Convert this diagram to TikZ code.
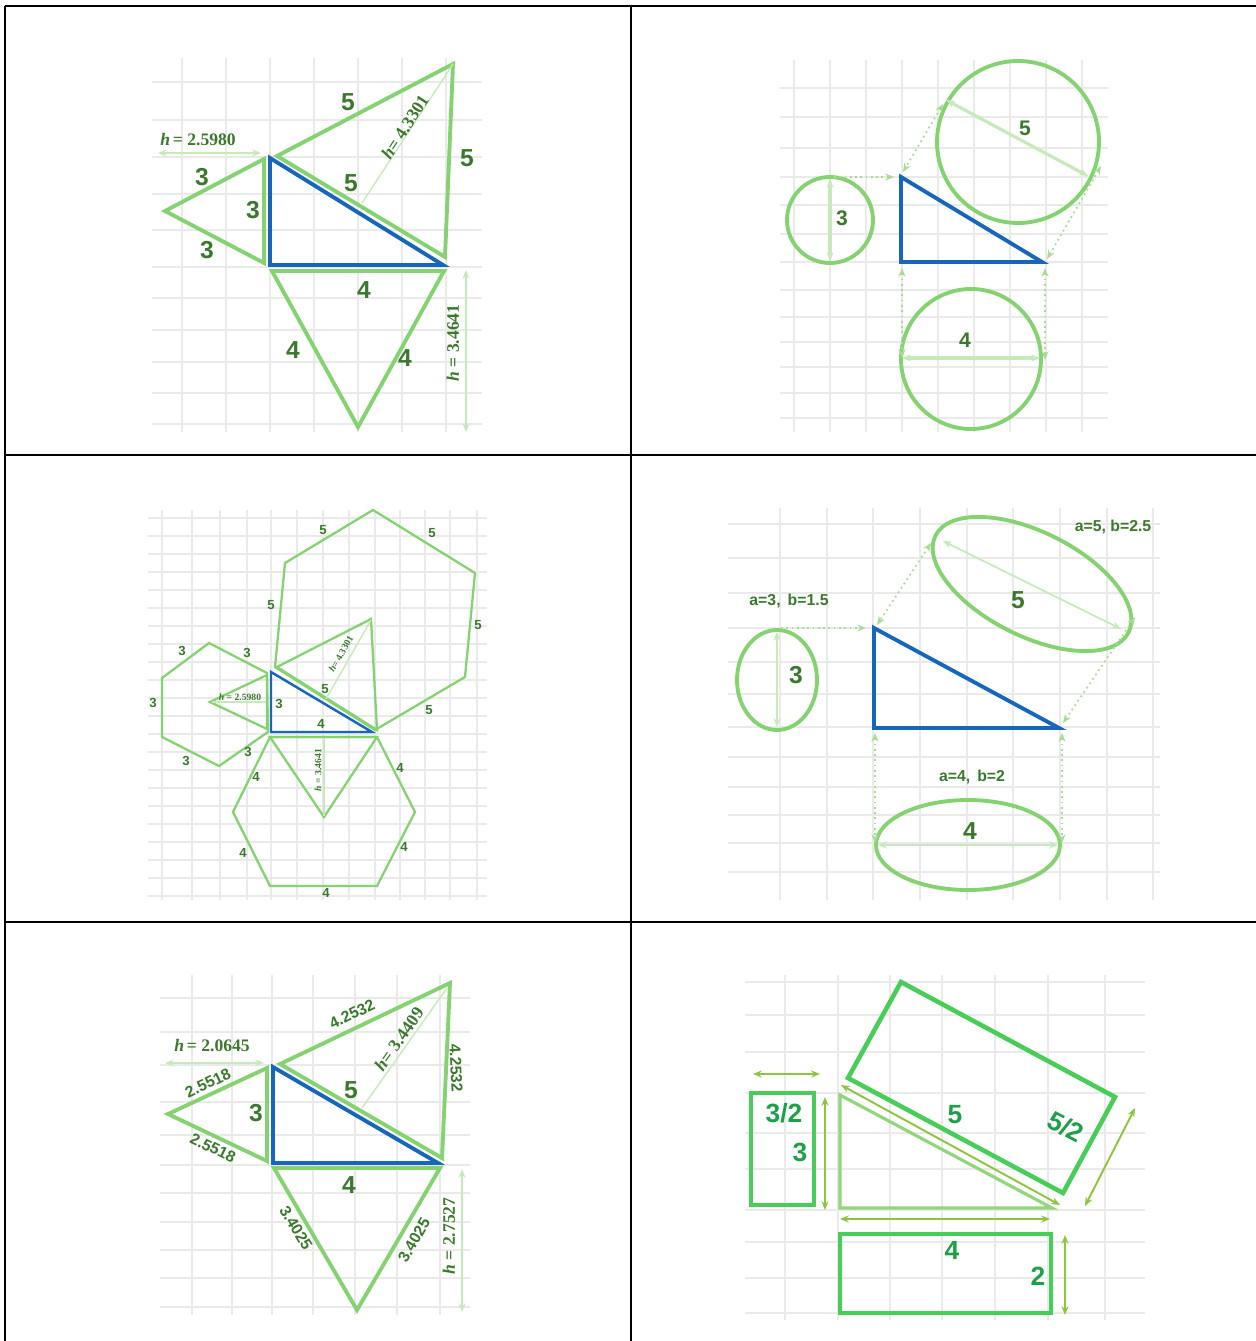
\documentclass[tikz,border=0pt]{standalone}
\usepackage{fontspec}
\setmainfont{Liberation Serif}
\setsansfont{Liberation Sans}
\usetikzlibrary{arrows.meta}

\definecolor{shapegreen}{RGB}{132,210,112}
\definecolor{labelgreen}{RGB}{58,120,44}
\definecolor{palegreen}{RGB}{198,234,186}
\definecolor{dotgreen}{RGB}{168,220,150}
\definecolor{triblue}{RGB}{22,102,190}
\definecolor{gridgray}{RGB}{234,234,234}
\definecolor{rectgreen}{RGB}{72,206,88}
\definecolor{rectlabel}{RGB}{28,160,72}
\definecolor{arrowgreen}{RGB}{140,198,63}
\definecolor{trigreen}{RGB}{146,214,124}

\tikzset{
	gridline/.style={gridgray, line width=0.6pt},
	tableline/.style={black, line width=1.2pt},
	greenshape/.style={shapegreen, line width=2.2pt},
	thinshape/.style={shapegreen, line width=1.3pt},
	blueshape/.style={triblue, line width=2.2pt},
	thinblue/.style={triblue, line width=1.4pt},
	rectshape/.style={rectgreen, line width=2.6pt},
	helper/.style={palegreen, line width=0.8pt},
	dotarrow/.style={dotgreen, line width=1pt, dotted},
	sizearrow/.style={arrowgreen, line width=1.1pt},
	biglabel/.style={labelgreen, font=\sffamily\bfseries\fontsize{14}{14}\selectfont},
	midlabel/.style={labelgreen, font=\sffamily\bfseries\fontsize{12}{12}\selectfont},
	smalllabel/.style={labelgreen, font=\sffamily\bfseries\fontsize{9}{9}\selectfont},
	tinylabel/.style={labelgreen, font=\sffamily\bfseries\fontsize{7.5}{7.5}\selectfont},
	hlabel/.style={labelgreen, font=\bfseries\fontsize{10}{10}\selectfont},
	htiny/.style={labelgreen, font=\bfseries\fontsize{5.5}{5.5}\selectfont},
	rectlab/.style={rectlabel, font=\sffamily\bfseries\fontsize{15}{15}\selectfont},
}

\begin{document}
\begin{tikzpicture}[x=0.02cm, y=-0.02cm, >={Stealth[length=5pt, width=4pt]}]
		\useasboundingbox (0,0) rectangle (1256,1341);

		\foreach \x in {182,226,270,314,358,402,446} \draw [gridline] (\x,58) -- (\x,432);
		\foreach \y in {82,120,157,194,230,267,298,330,362,393,424} \draw [gridline] (152,\y) -- (482,\y);

		\draw [greenshape] (264,159) -- (264,263) -- (165,211) -- cycle;
		\draw [greenshape] (277,156) -- (453,64) -- (445,257) -- cycle;
		\draw [greenshape] (272,271) -- (444,271) -- (358,427) -- cycle;
		\draw [blueshape] (270,158) -- (270,265) -- (443,265) -- cycle;

		\draw [helper] (453,64) -- (362,203);
		\draw [helper] [<->] (158,153) -- (261,153);
		\draw [helper] [<->] (466,270) -- (466,432);

		\node [hlabel] (p1hl) at (198,140) {\textit{h}\,= 2.5980};
		\node [hlabel, rotate=57] (p1ht) at (405,127) {\textit{h}= 4.3301};
		\node [hlabel, rotate=90] (p1hb) at (453,343) {\textit{h} = 3.4641};

		\node [biglabel] (p1a) at (202,177) {3};
		\node [biglabel] (p1b) at (253,210) {3};
		\node [biglabel] (p1c) at (207,250) {3};
		\node [biglabel] (p1d) at (348,102) {5};
		\node [biglabel] (p1e) at (351,183) {5};
		\node [biglabel] (p1f) at (467,158) {5};
		\node [biglabel] (p1g) at (364,290) {4};
		\node [biglabel] (p1h) at (293,350) {4};
		\node [biglabel] (p1i) at (405,358) {4};

		\foreach \x in {794,830,866,902,938,974,1010,1046,1082} \draw [gridline] (\x,60) -- (\x,432);
		\foreach \y in {88,117,148,177,205,234,262,290,317,342,367,393,418} \draw [gridline] (780,\y) -- (1108,\y);

		\draw [greenshape] (830,220) circle (43);
		\draw [greenshape] (1018,142) circle (81);
		\draw [greenshape] (971,359) circle (70);
		\draw [blueshape] (901,177) -- (901,262) -- (1042,262) -- cycle;

		\draw [helper, line width=1.8pt] [<->] (830,179) -- (830,261);
		\draw [helper, line width=1.8pt] [<->] (946,100) -- (1088,176);
		\draw [helper, line width=1.8pt] [<->] (902,358) -- (1040,358);

		\draw [dotarrow] [->] (834,177) -- (894,177);
		\draw [dotarrow] [<->] (943,104) -- (903,172);
		\draw [dotarrow] [<->] (1101,166) -- (1047,259);
		\draw [dotarrow] [<->] (902,268) -- (902,358);
		\draw [dotarrow] [<->] (1045,268) -- (1045,360);

		\node [midlabel] (p2a) at (1025,128) {5};
		\node [midlabel] (p2b) at (842,218) {3};
		\node [midlabel] (p2c) at (965,340) {4};

		\foreach \x in {162,192,220,247,271,297,323,349,375,400,425,450,477} \draw [gridline] (\x,510) -- (\x,900);
		\foreach \y in {518,536,...,896} \draw [gridline] (148,\y) -- (487,\y);

		\draw [thinshape] (267,673) -- (209,643) -- (162,678) -- (162,737) -- (219,766) -- (268,732) -- cycle;
		\draw [thinshape] (267,675) -- (267,729) -- (210,702) -- cycle;
		\draw [thinshape] (270,737) -- (377,737) -- (415,812) -- (377,886) -- (270,886) -- (233,812) -- cycle;
		\draw [thinshape] (270,737) -- (377,737) -- (324,817) -- cycle;
		\draw [thinshape] (275,667) -- (285,563) -- (373,510) -- (475,573) -- (465,677) -- (375,730) -- cycle;
		\draw [thinshape] (277,667) -- (371,619) -- (377,730) -- cycle;
		\draw [thinblue] (271,672) -- (271,732) -- (372,732) -- cycle;

		\draw [helper] (371,620) -- (326,699);
		\draw [helper] (212,702) -- (266,702);
		\draw [helper] (324,738) -- (324,816);

		\node [htiny] (p3hl) at (240,697) {\textit{h} = 2.5980};
		\node [htiny, rotate=60] (p3ht) at (341,654) {\textit{h}= 4.3301};
		\node [htiny, rotate=90] (p3hb) at (318,770) {\textit{h} = 3.4641};

		\node [tinylabel] (p3a) at (323,530) {5};
		\node [tinylabel] (p3b) at (432,533) {5};
		\node [tinylabel] (p3c) at (271,605) {5};
		\node [tinylabel] (p3d) at (478,625) {5};
		\node [tinylabel] (p3e) at (429,710) {5};
		\node [tinylabel] (p3f) at (325,689) {5};
		\node [tinylabel] (p3g) at (182,651) {3};
		\node [tinylabel] (p3h) at (247,653) {3};
		\node [tinylabel] (p3i) at (153,703) {3};
		\node [tinylabel] (p3j) at (279,704) {3};
		\node [tinylabel] (p3k) at (248,752) {3};
		\node [tinylabel] (p3l) at (186,761) {3};
		\node [tinylabel] (p3m) at (321,724) {4};
		\node [tinylabel] (p3n) at (256,777) {4};
		\node [tinylabel] (p3o) at (400,768) {4};
		\node [tinylabel] (p3p) at (243,853) {4};
		\node [tinylabel] (p3q) at (404,847) {4};
		\node [tinylabel] (p3r) at (326,893) {4};

		\foreach \x in {780,827,873,920,967,1013,1060,1107,1153} \draw [gridline] (\x,508) -- (\x,900);
		\foreach \y in {524,558,593,628,662,694,727,757,787,815,843,872} \draw [gridline] (728,\y) -- (1160,\y);

		\draw [greenshape] (777,680) ellipse [x radius=40, y radius=50];
		\draw [greenshape, rotate around={-26.6:(1032,584)}] (1032,584) ellipse [x radius=108, y radius=52];
		\draw [greenshape] (968,845) ellipse [x radius=92, y radius=45];
		\draw [blueshape] (874,628) -- (874,728) -- (1059,728) -- cycle;

		\draw [helper, line width=1pt] [<->] (777,632) -- (777,727);
		\draw [helper, line width=1pt] [<->] (943,541) -- (1121,629);
		\draw [helper, line width=1pt] [<->] (878,845) -- (1058,845);

		\draw [dotarrow] [->] (781,628) -- (866,628);
		\draw [dotarrow] [<->] (931,543) -- (877,625);
		\draw [dotarrow] [<->] (1135,617) -- (1063,723);
		\draw [dotarrow] [<->] (875,733) -- (875,843);
		\draw [dotarrow] [<->] (1062,733) -- (1062,843);

		\node [smalllabel] (p4la) at (789,601) {a=3,\, b=1.5};
		\node [smalllabel] (p4lb) at (1113,527) {a=5, b=2.5};
		\node [smalllabel] (p4lc) at (972,777) {a=4,\, b=2};
		\node [biglabel] (p4a) at (796,675) {3};
		\node [biglabel] (p4b) at (1018,600) {5};
		\node [biglabel] (p4c) at (970,831) {4};

		\foreach \x in {192,232,272,313,355,397,440} \draw [gridline] (\x,975) -- (\x,1315);
		\foreach \y in {998,1032,1065,1102,1135,1165,1193,1222,1250,1278,1307} \draw [gridline] (160,\y) -- (470,\y);

		\draw [greenshape] (267,1068) -- (267,1161) -- (168,1114) -- cycle;
		\draw [greenshape] (280,1064) -- (450,983) -- (442,1158) -- cycle;
		\draw [greenshape] (274,1168) -- (440,1168) -- (357,1310) -- cycle;
		\draw [blueshape] (273,1067) -- (273,1163) -- (438,1163) -- cycle;

		\draw [helper] (447,988) -- (362,1108);
		\draw [helper] [<->] (165,1063) -- (264,1063);
		\draw [helper] [<->] (462,1169) -- (462,1312);

		\node [hlabel] (p5hl) at (212,1046) {\textit{h}\,= 2.0645};
		\node [hlabel, rotate=55] (p5ht) at (399,1039) {\textit{h}= 3.4409};
		\node [hlabel, rotate=90] (p5hb) at (449,1236) {\textit{h} = 2.7527};

		\node [smalllabel, rotate=25.5] (p5a) at (352,1014) {4.2532};
		\node [smalllabel, rotate=-87] (p5b) at (456,1068) {4.2532};
		\node [smalllabel, rotate=25.4] (p5c) at (208,1083) {2.5518};
		\node [smalllabel, rotate=-26] (p5d) at (213,1148) {2.5518};
		\node [smalllabel, rotate=-59] (p5e) at (296,1228) {3.4025};
		\node [smalllabel, rotate=60] (p5f) at (414,1240) {3.4025};
		\node [biglabel] (p5g) at (256,1113) {3};
		\node [biglabel] (p5h) at (351,1090) {5};
		\node [biglabel] (p5i) at (349,1185) {4};

		\foreach \x in {785,838,890,942,995,1048,1105} \draw [gridline] (\x,975) -- (\x,1320);
		\foreach \y in {982,1015,1052,1093,1133,1169,1210,1242,1278,1313} \draw [gridline] (745,\y) -- (1145,\y);

		\draw [trigreen, line width=1.8pt] (840,1095) -- (840,1208) -- (1052,1208) -- cycle;
		\draw [rectshape] (751,1093) rectangle (814,1205);
		\draw [rectshape] (840,1234) rectangle (1051,1313);
		\draw [rectshape] (848,1078) -- (901,982) -- (1115,1097) -- (1063,1193) -- cycle;

		\draw [sizearrow] [<->] (753,1074) -- (820,1074);
		\draw [sizearrow] [<->] (825,1097) -- (825,1210);
		\draw [sizearrow] [<->] (840,1219) -- (1050,1219);
		\draw [sizearrow] [<->] (1065,1235) -- (1065,1315);
		\draw [sizearrow] [<->] (841,1085) -- (1060,1205);
		\draw [sizearrow] [<->] (1135,1108) -- (1085,1206);

		\node [rectlab] (p6a) at (784,1113) {3/2};
		\node [rectlab] (p6b) at (800,1152) {3};
		\node [rectlab] (p6c) at (955,1115) {5};
		\node [rectlab, rotate=-28] (p6d) at (1066,1127) {5/2};
		\node [rectlab] (p6e) at (952,1250) {4};
		\node [rectlab] (p6f) at (1038,1276) {2};

		\draw [tableline] (5,6) -- (1256,6);
		\draw [tableline] (5,6) -- (5,1341);
		\draw [tableline] (631,6) -- (631,1341);
		\draw [tableline] (5,455) -- (1256,455);
		\draw [tableline] (5,922) -- (1256,922);
	\end{tikzpicture}
\end{document}
